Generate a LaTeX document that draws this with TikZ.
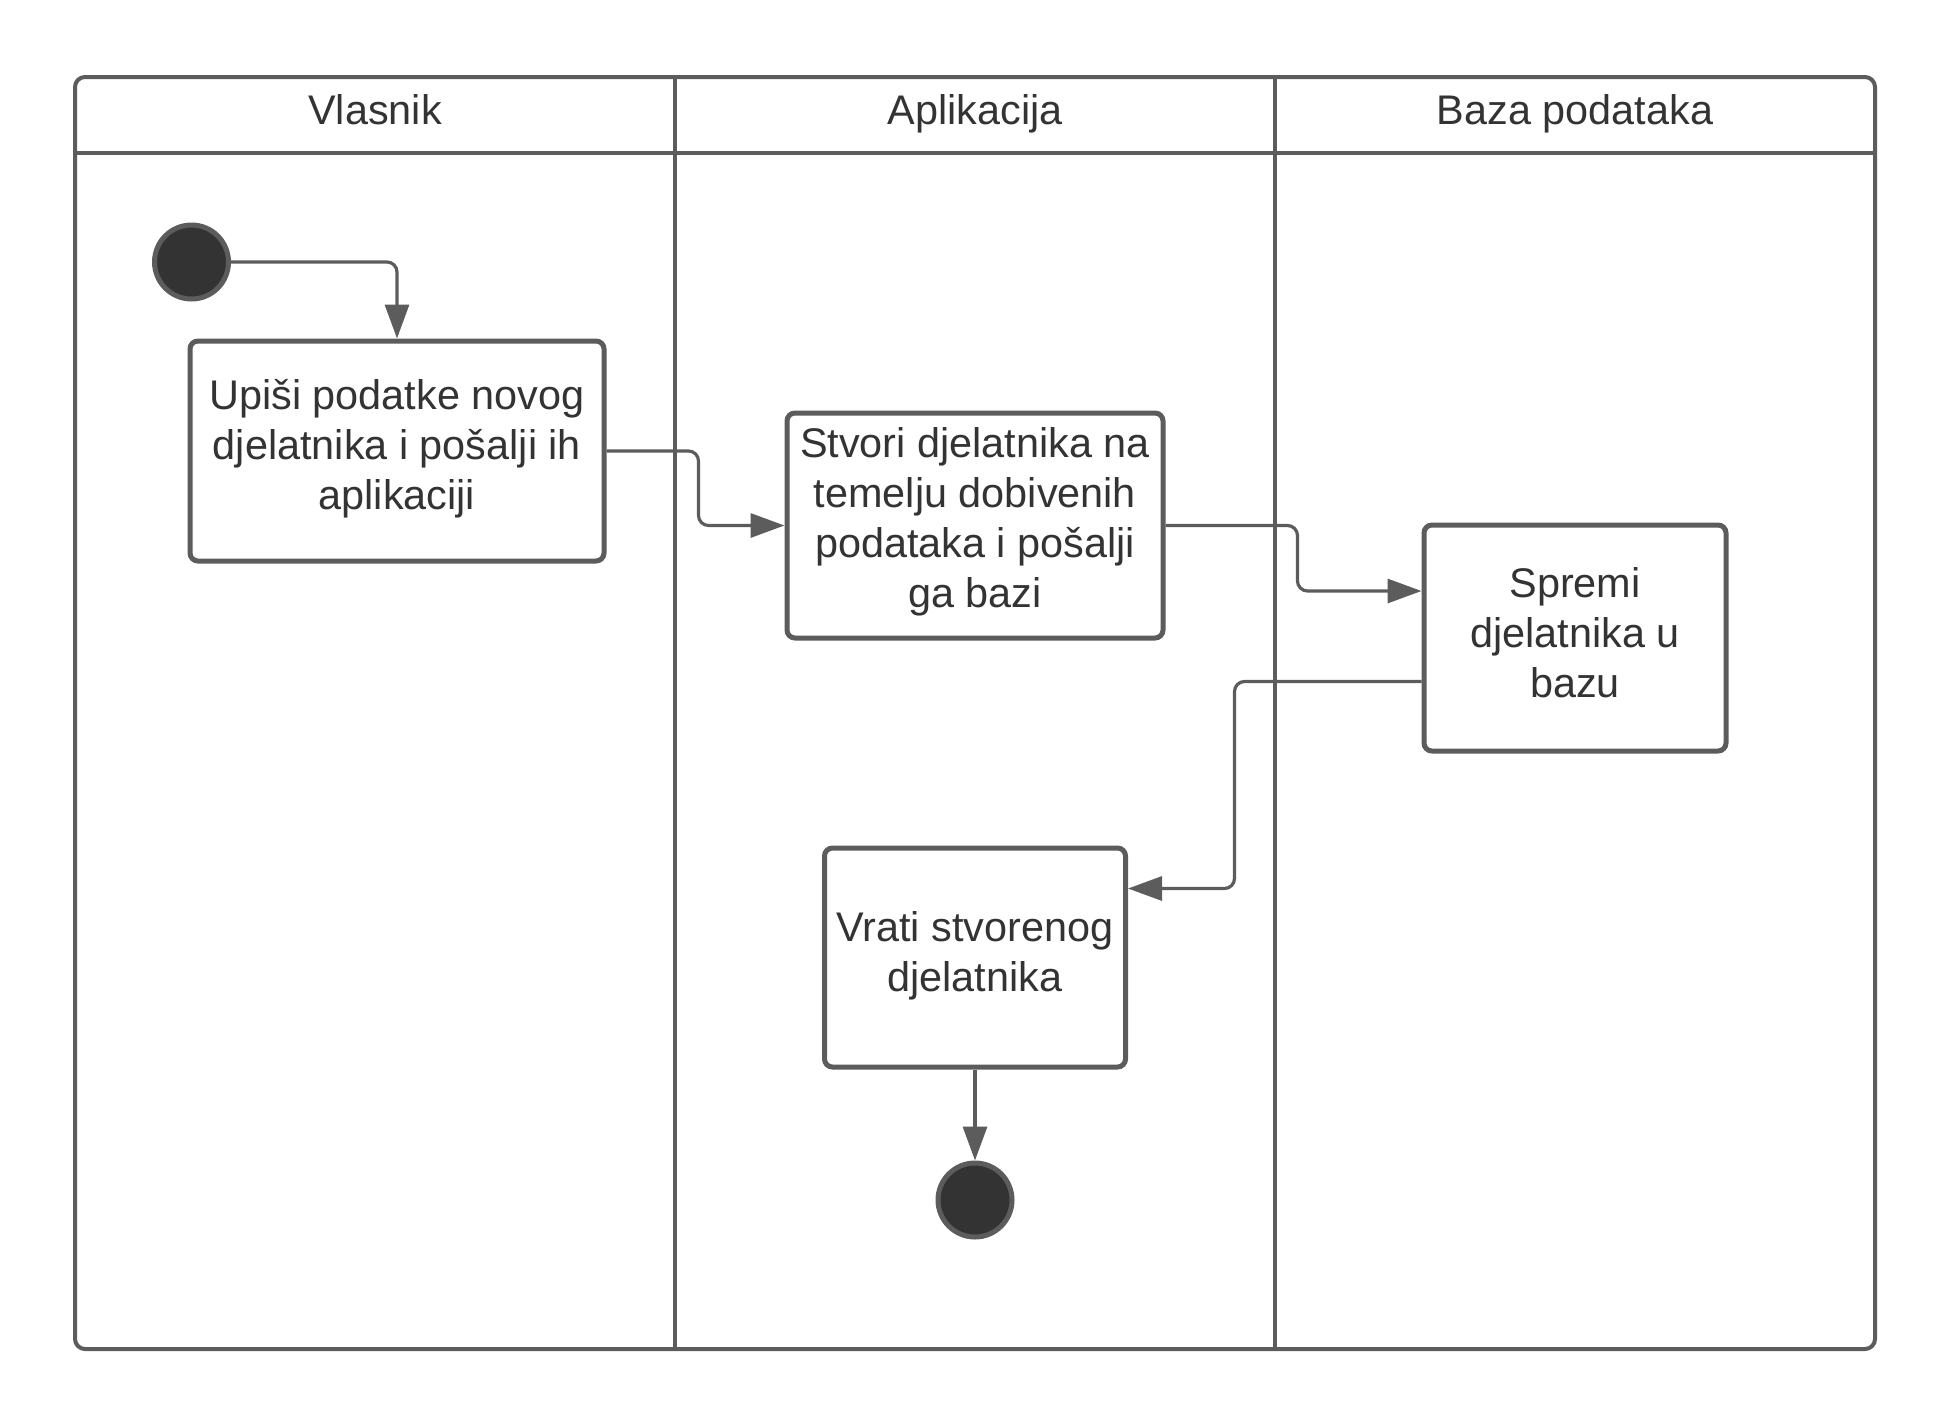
\documentclass[tikz,border=0pt]{standalone}
\usepackage{fontspec}
\setmainfont{Liberation Sans}
\usetikzlibrary{arrows.meta,calc}
\definecolor{lnc}{HTML}{5C5C5C}
\definecolor{txc}{HTML}{333333}
\definecolor{dotc}{HTML}{333333}
\tikzset{
  lane/.style={draw=lnc,line width=2pt},
  actbox/.style={draw=lnc,line width=2.5pt,rounded corners=4pt,fill=white,align=center,
    text=txc,inner sep=0pt,font=\fontsize{20.7}{25}\selectfont},
  hdr/.style={text=txc,anchor=base,font=\fontsize{20.7}{25}\selectfont},
  dot/.style={circle,draw=lnc,line width=2.5pt,fill=dotc,minimum size=37pt,inner sep=0pt},
  conn/.style={draw=lnc,line width=1.6pt,rounded corners=5pt,-{Triangle[length=17pt,width=12pt]}},
}
\begin{document}
\begin{tikzpicture}[x=0.5pt,y=-0.5pt]
\useasboundingbox (0,0) rectangle (1950,1425);
% swimlane frame
\draw[lane,rounded corners=5pt] (75,77) rectangle (1875,1349);
\draw[lane] (75,153) -- (1875,153);
\draw[lane] (675,77) -- (675,1349);
\draw[lane] (1275,77) -- (1275,1349);
\node[hdr] (h1) at (375,124) {Vlasnik};
\node[hdr] (h2) at (975,124) {Aplikacija};
\node[hdr] (h3) at (1575,124) {Baza podataka};
% nodes
\node[dot] (init) at (191.5,262) {};
\node[actbox,minimum width=207pt,minimum height=110pt] (box1) at (397,451)
  {Upiši podatke novog\\djelatnika i pošalji ih\\aplikaciji\vspace*{2pt}};
\node[actbox,minimum width=188pt,minimum height=112.5pt] (box2) at (975,525.5)
  {Stvori djelatnika na\\temelju dobivenih\\podataka i pošalji\\ga bazi\vspace*{4pt}};
\node[actbox,minimum width=151pt,minimum height=113pt] (box3) at (1575,638)
  {Spremi\\djelatnika u\\bazu\vspace*{5pt}};
\node[actbox,minimum width=150.5pt,minimum height=109.5pt] (box4) at (975,957.5)
  {Vrati stvorenog\\djelatnika\vspace*{2pt}};
\node[dot] (final) at (975,1200) {};
% connectors
\draw[conn] (init.east) -| (box1.north);
\draw[conn] (box1.east) -- ++(92,0) |- (box2.west);
\draw[conn] (box2.east) -- ++(132,0) |- ($(box3.west)+(0,-47)$);
\draw[conn] ($(box3.west)+(0,43.5)$) -- ++(-187,0) |- ($(box4.east)+(0,-69)$);
\draw[conn] (box4.south) -- (final.north);
\end{tikzpicture}
\end{document}
